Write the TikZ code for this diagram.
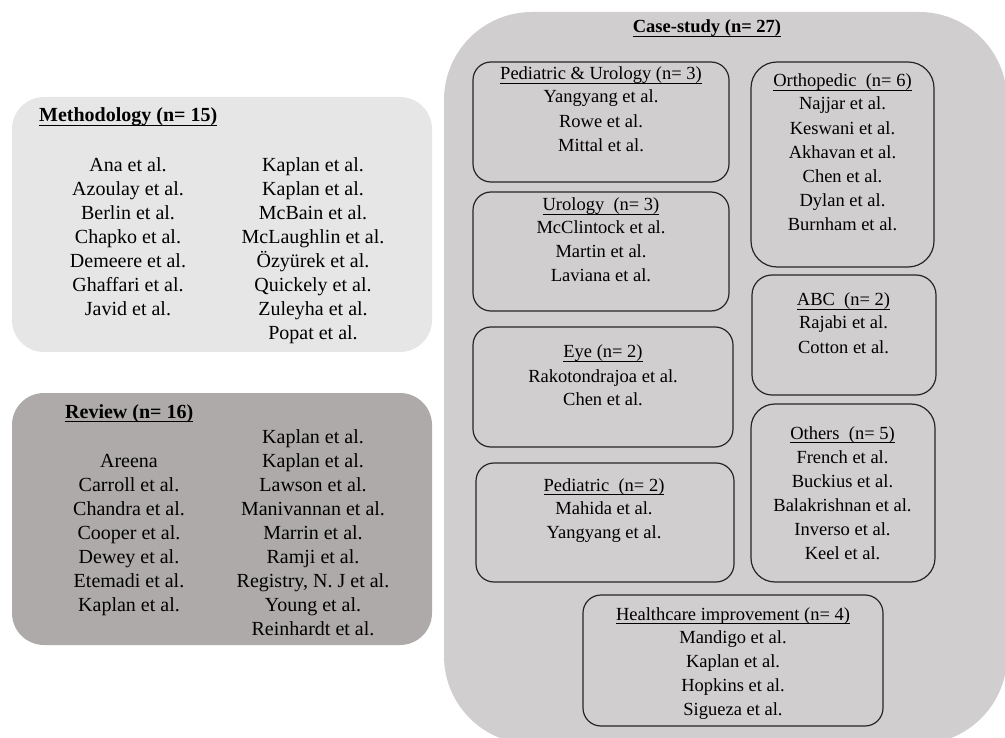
\documentclass[tikz,border=0pt]{standalone}
\usepackage{fontspec}
\setmainfont{Liberation Serif}
\definecolor{methfill}{HTML}{E7E6E6}
\definecolor{revfill}{HTML}{AEAAAA}
\definecolor{casefill}{HTML}{D0CECE}
\definecolor{edge}{HTML}{262626}

% underline at a fixed distance below the baseline (crosses descenders)
\newsavebox\ulbox
\newcommand\ul[1]{\sbox\ulbox{#1}\rlap{\rule[-4pt]{\wd\ulbox}{1.1pt}}\usebox\ulbox}

% place a column of names, one per line, starting at baseline y0
\newcommand\namecol[6]{% style, name, x, y0, dy, list
  \foreach \t [count=\i] in {#6}
    \node[#1] (#2-\i) at (#3, {#4+(\i-1)*#5}) {\t};
}

\begin{document}
\begin{tikzpicture}[x=1pt,y=-1pt,
  bigtxt/.style={anchor=base,inner sep=0pt,font=\fontsize{20}{24}\selectfont},
  smalltxt/.style={anchor=base,inner sep=0pt,font=\fontsize{18.5}{23}\selectfont},
  bigtitle/.style={anchor=base west,inner sep=0pt,font=\fontsize{20}{24}\selectfont\bfseries},
  subbox/.style={draw=edge,line width=1.2pt},
]
\useasboundingbox (0,0) rectangle (1005,738);
\clip (0,0) rectangle (1005,738);

% group panels
\fill[methfill,rounded corners=32pt] (12,97) rectangle (432,352);
\fill[revfill,rounded corners=32pt] (12,393) rectangle (432,645);
\fill[casefill,rounded corners=88pt] (444,12) rectangle (1007,744);

% Methodology
\node[bigtitle] (methtitle) at (39,122) {\ul{Methodology (n= 15)}};
\namecol{bigtxt}{methL}{128}{172}{24}{Ana et al.,Azoulay et al.,Berlin et al.,Chapko et al.,Demeere et al.,Ghaffari et al.,Javid et al.}
\namecol{bigtxt}{methR}{313}{172}{24}{Kaplan et al.,Kaplan et al.,McBain et al.,McLaughlin et al.,Özyürek et al.,Quickely et al.,Zuleyha et al.,Popat et al.}

% Review
\node[bigtitle] (revtitle) at (65,418) {\ul{Review (n= 16)}};
\namecol{bigtxt}{revL}{129}{467}{24}{Areena,Carroll et al.,Chandra et al.,Cooper et al.,Dewey et al.,Etemadi et al.,Kaplan et al.}
\namecol{bigtxt}{revR}{313}{443}{24}{Kaplan et al.,Kaplan et al.,Lawson et al.,Manivannan et al.,Marrin et al.,Ramji et al.,{Registry, N. J et al.},Young et al.,Reinhardt et al.}

% Case-study
\node[anchor=base,inner sep=0pt,font=\fontsize{18.5}{23}\selectfont\bfseries] (casetitle) at (707,33) {\ul{Case-study (n= 27)}};

% sub-groups
\draw[subbox,rounded corners=18pt] (473,62) rectangle (729,182);
\node[smalltxt] (putitle) at (601,80) {\ul{Pediatric \& Urology (n= 3)}};
\namecol{smalltxt}{pu}{601}{103}{24.3}{Yangyang et al.,Rowe et al.,Mittal et al.}

\draw[subbox,rounded corners=26pt] (751,62) rectangle (934,267);
\node[smalltxt] (ortitle) at (842.5,87) {\ul{Orthopedic\ \ (n= 6)}};
\namecol{smalltxt}{or}{842.5}{110}{24.2}{Najjar et al.,Keswani et al.,Akhavan et al.,Chen et al.,Dylan et al.,Burnham et al.}

\draw[subbox,rounded corners=18pt] (473,192) rectangle (729,311);
\node[smalltxt] (urtitle) at (601,211) {\ul{Urology\ \ (n= 3)}};
\namecol{smalltxt}{ur}{601}{234}{24}{McClintock et al.,Martin et al.,Laviana et al.}

\draw[subbox,rounded corners=18pt] (473,327) rectangle (733,447);
\node[smalltxt] (eyetitle) at (603,358) {\ul{Eye (n= 2)}};
\namecol{smalltxt}{eye}{603}{382}{23.5}{Rakotondrajoa et al.,Chen et al.}

\draw[subbox,rounded corners=20pt] (752,275) rectangle (936,395);
\node[smalltxt] (abctitle) at (843.5,306) {\ul{ABC\ \ (n= 2)}};
\namecol{smalltxt}{abc}{843.5}{329}{24}{Rajabi et al.,Cotton et al.}

\draw[subbox,rounded corners=24pt] (751,404) rectangle (935,582);
\node[smalltxt] (ottitle) at (842.5,439) {\ul{Others\ \ (n= 5)}};
\namecol{smalltxt}{ot}{842.5}{463}{24}{French et al.,Buckius et al.,Balakrishnan et al.,Inverso et al.,Keel et al.}

\draw[subbox,rounded corners=18pt] (476,463) rectangle (734,582);
\node[smalltxt] (petitle) at (604,491) {\ul{Pediatric\ \ (n= 2)}};
\namecol{smalltxt}{pe}{604}{514}{24}{Mahida et al.,Yangyang et al.}

\draw[subbox,rounded corners=18pt] (583,595) rectangle (883,726);
\node[smalltxt] (hctitle) at (733,620) {\ul{Healthcare improvement (n= 4)}};
\namecol{smalltxt}{hc}{733}{643}{24}{Mandigo et al.,Kaplan et al.,Hopkins et al.,Sigueza et al.}
\end{tikzpicture}
\end{document}
